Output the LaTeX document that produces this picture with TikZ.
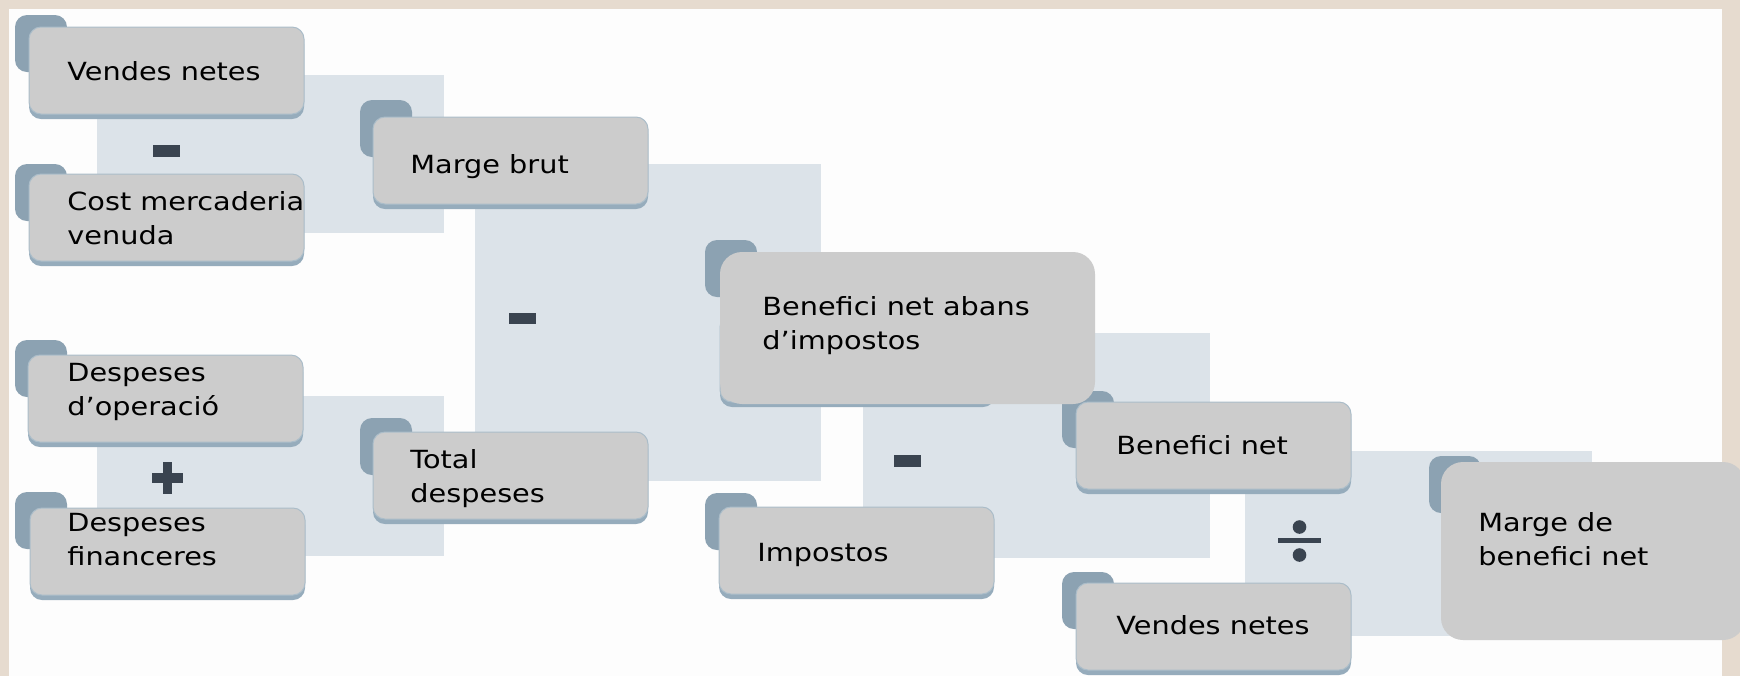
\documentclass[tikz,border=0pt]{standalone}
\usepackage{fontspec}
\setmainfont[FakeStretch=1.15]{DejaVu Sans}
\usepackage{tikz}
\usetikzlibrary{shadows}

\definecolor{frame}{RGB}{230,219,207}
\definecolor{paper}{RGB}{253,253,253}
\definecolor{band}{RGB}{220,227,233}
\definecolor{boxgray}{RGB}{204,204,204}
\definecolor{tabblue}{RGB}{140,162,178}
\definecolor{edgeblue}{RGB}{150,172,188}
\definecolor{signdark}{RGB}{58,68,80}

\begin{document}
\begin{tikzpicture}[x=0.5pt, y=-0.5pt,
		tab_style/.style={rectangle,rounded corners=6pt,fill=tabblue,minimum width=26pt,minimum height=28.5pt,inner sep=0pt},
		box_style/.style={rectangle,rounded corners=6pt,fill=boxgray,draw=edgeblue!80,line width=0.5pt,minimum width=137.5pt,minimum height=43.5pt,inner sep=0pt,
			general shadow={fill=edgeblue,shadow yshift=-2.5pt}},
		big_style/.style={rectangle,rounded corners=11pt,fill=boxgray,inner sep=0pt},
		label_style/.style={anchor=base west,align=left,inner sep=0pt,font=\fontsize{12.5}{17}\selectfont}]
		
		\clip (0,0) rectangle (1740,676);
		\fill[frame] (0,0) rectangle (1740,676);
		\fill[paper] (9,9) rectangle (1722,676);
		
		% panels behind each step
		\fill[band] (97,75) rectangle (444,233);
		\fill[band] (97,396) rectangle (444,556);
		\fill[band] (475,164) rectangle (821,481);
		\fill[band] (863,333) rectangle (1210,558);
		\fill[band] (1245,451) rectangle (1592,636);
		
		\node[tab_style] (t1) at (41,43.5) {};
		\node[tab_style] (t2) at (41,192.5) {};
		\node[tab_style] (t3) at (41,368.5) {};
		\node[tab_style] (t4) at (41,520.5) {};
		\node[tab_style] (t5) at (386,128.5) {};
		\node[tab_style] (t6) at (386,446.5) {};
		\node[tab_style] (t7) at (731,268.5) {};
		\node[tab_style] (t8) at (731,521.5) {};
		\node[tab_style] (t9) at (1088,419.5) {};
		\node[tab_style] (t10) at (1088,600.5) {};
		\node[tab_style] (t11) at (1455,484.5) {};
		
		\node[box_style] (n1) at (166.5,70.5) {};
		\node[box_style] (n2) at (166.5,217.5) {};
		\node[box_style] (n3) at (165.5,398.5) {};
		\node[box_style] (n4) at (167.5,551.5) {};
		\node[box_style] (n5) at (510.5,160.5) {};
		\node[box_style] (n6) at (510.5,475.5) {};
		\node[box_style] (n7) at (857.5,358.5) {};
		\node[big_style,minimum width=187.5pt,minimum height=76pt] (n7b) at (907.5,328) {};
		\node[box_style] (n8) at (856.5,550.5) {};
		\node[box_style] (n9) at (1213.5,445.5) {};
		\node[box_style] (n10) at (1213.5,626.5) {};
		\node[big_style,minimum width=152pt,minimum height=89pt] (n11) at (1593,551) {};
		
		% operators
		\fill[signdark] (153,145) rectangle (180,157);
		\fill[signdark] (152,473) rectangle (183,483);
		\fill[signdark] (163,462) rectangle (172,494);
		\fill[signdark] (509,313) rectangle (536,324);
		\fill[signdark] (894,455) rectangle (921,467);
		\fill[signdark] (1278,538) rectangle (1321,543);
		\fill[signdark] (1299.5,527) circle (3.4pt);
		\fill[signdark] (1299.5,555) circle (3.4pt);
		
		% labels (y = baseline of last line)
		\node[label_style] (l1) at (67,80) {Vendes netes};
		\node[label_style] (l2) at (67,244) {Cost mercaderia\\venuda};
		\node[label_style] (l3) at (67,415) {Despeses\\d’operació};
		\node[label_style] (l4) at (67,565) {Despeses\\financeres};
		\node[label_style] (l5) at (410,173) {Marge brut};
		\node[label_style] (l6) at (410,502) {Total\\despeses};
		\node[label_style] (l7) at (762,349) {Benefici net abans\\d’impostos};
		\node[label_style] (l8) at (757,561) {Impostos};
		\node[label_style] (l9) at (1116,454) {Benefici net};
		\node[label_style] (l10) at (1116,634) {Vendes netes};
		\node[label_style] (l11) at (1478,565) {Marge de\\benefici net};
		
\end{tikzpicture}
\end{document}
